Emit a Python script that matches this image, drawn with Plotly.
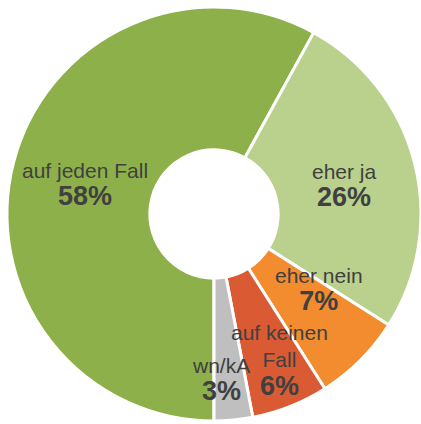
import math
import plotly.graph_objects as go

# Survey answers, clockwise from the bottom of the ring
categories = ["auf jeden Fall", "eher ja", "eher nein", "auf keinen Fall", "wn/kA"]
shares = [58, 26, 7, 6, 3]
label_lines = ["auf jeden Fall", "eher ja", "eher nein", "auf keinen<br>Fall", "wn/kA"]

colors = ["#8DB04A", "#B9D18C", "#F38B2F", "#DA5B33", "#BFBFBF"]

W, H = 421, 424
# pie domain in pixels (left, top, right, bottom)
left, top, right, bottom = 7, 6, 421, 422

fig = go.Figure(
    go.Pie(
        labels=categories,
        values=shares,
        sort=False,
        direction="clockwise",
        rotation=180,
        hole=0.31,
        textinfo="none",
        hoverinfo="label+percent",
        marker=dict(colors=colors, line=dict(color="white", width=3)),
        domain=dict(x=[left / W, right / W], y=[1 - bottom / H, 1 - top / H]),
        showlegend=False,
    )
)

# Data labels placed along each slice's mid angle
cx = (left + right) / 2
cy = (top + bottom) / 2
radius = min(right - left, bottom - top) / 2
label_radius = [0.645, 0.63, 0.62, 0.77, 0.80]
label_shift = [(0, -4), (4, -4), (14, 15), (7, 1), (-9, -1)]

total = sum(shares)
start = 180.0
for name, lines, val, rf, (sx, sy) in zip(categories, label_lines, shares, label_radius, label_shift):
    span = 360.0 * val / total
    mid = math.radians(start + span / 2)
    start += span
    px = cx + rf * radius * math.sin(mid)
    py = cy - rf * radius * math.cos(mid)
    fig.add_annotation(
        x=px / W,
        y=1 - py / H,
        xref="paper",
        yref="paper",
        xanchor="center",
        yanchor="middle",
        text=f"{lines}<br><b><span style='font-size:27px'>{val}%</span></b>",
        showarrow=False,
        xshift=sx,
        yshift=sy,
        align="center",
        font=dict(family="Liberation Sans, Arial, sans-serif", size=21, color="#404040"),
    )

fig.update_layout(
    width=W,
    height=H,
    margin=dict(l=0, r=0, t=0, b=0),
    paper_bgcolor="white",
    plot_bgcolor="white",
)

fig.write_html("out.html")
